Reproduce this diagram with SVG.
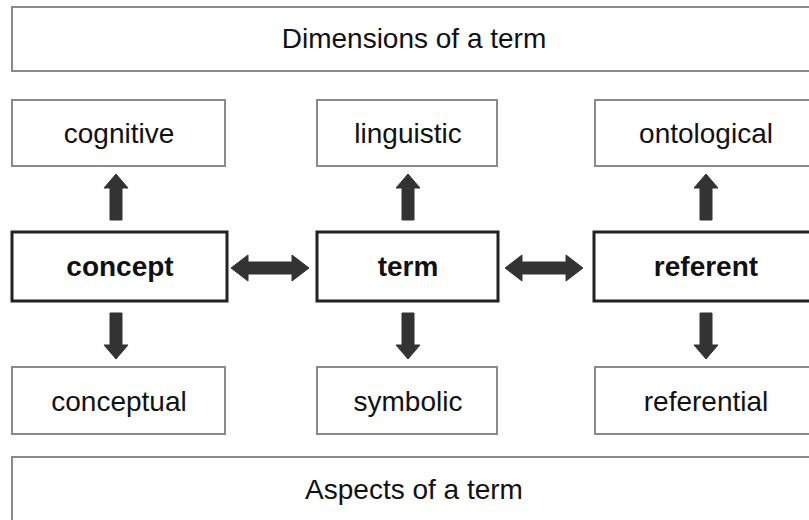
<svg xmlns="http://www.w3.org/2000/svg" width="809" height="520" viewBox="0 0 809 520">
  <style>
    .thin { fill: #ffffff; stroke: #8a8a8a; stroke-width: 2; }
    .thick { fill: #ffffff; stroke: #222222; stroke-width: 3; }
    .lbl { font-family: "Liberation Sans", Arial, sans-serif; font-size: 28px; fill: #111111; text-anchor: middle; }
    .bold { font-weight: bold; }
    .arrow { fill: #333333; stroke: #333333; stroke-width: 1; stroke-linejoin: round; }
  </style>
  <defs>
    <!-- vertical block arrow pointing up, tip at origin -->
    <path id="up" d="M0,0 L12,14 L6,14 L6,46 L-6,46 L-6,14 L-12,14 Z"/>
    <!-- vertical block arrow pointing down, tip at origin -->
    <path id="down" d="M0,0 L12,-14 L6,-14 L6,-46 L-6,-46 L-6,-14 L-12,-14 Z"/>
    <!-- horizontal double-headed block arrow, 78 long, centred vertically on 0 -->
    <path id="both" d="M0,0 L17,-13 L17,-6 L61,-6 L61,-13 L78,0 L61,13 L61,6 L17,6 L17,13 Z"/>
  </defs>

  <rect width="809" height="520" fill="#ffffff"/>

  <g id="dimensions">
    <rect class="thin" x="12" y="7" width="820" height="64"/>
    <text class="lbl" x="414" y="48">Dimensions of a term</text>
  </g>

  <g id="cognitive">
    <rect class="thin" x="12" y="100" width="213" height="66"/>
    <text class="lbl" x="119" y="143">cognitive</text>
  </g>
  <g id="linguistic">
    <rect class="thin" x="317" y="100" width="180" height="66"/>
    <text class="lbl" x="408" y="143">linguistic</text>
  </g>
  <g id="ontological">
    <rect class="thin" x="595" y="100" width="230" height="66"/>
    <text class="lbl" x="706" y="143">ontological</text>
  </g>

  <g id="concept">
    <rect class="thick" x="12" y="232" width="215" height="69"/>
    <text class="lbl bold" x="120" y="276">concept</text>
  </g>
  <g id="term">
    <rect class="thick" x="317" y="232" width="181" height="69"/>
    <text class="lbl bold" x="408" y="276">term</text>
  </g>
  <g id="referent">
    <rect class="thick" x="594" y="232" width="230" height="69"/>
    <text class="lbl bold" x="706" y="276">referent</text>
  </g>

  <g id="conceptual">
    <rect class="thin" x="12" y="367" width="213" height="67"/>
    <text class="lbl" x="119" y="411">conceptual</text>
  </g>
  <g id="symbolic">
    <rect class="thin" x="317" y="367" width="180" height="67"/>
    <text class="lbl" x="408" y="411">symbolic</text>
  </g>
  <g id="referential">
    <rect class="thin" x="595" y="367" width="230" height="67"/>
    <text class="lbl" x="706" y="411">referential</text>
  </g>

  <g id="aspects">
    <rect class="thin" x="12" y="457" width="820" height="70"/>
    <text class="lbl" x="414" y="499">Aspects of a term</text>
  </g>

  <g id="connectors">
    <use href="#up" class="arrow" x="116" y="174"/>
    <use href="#up" class="arrow" x="408" y="174"/>
    <use href="#up" class="arrow" x="706" y="174"/>
    <use href="#down" class="arrow" x="116" y="359"/>
    <use href="#down" class="arrow" x="408" y="359"/>
    <use href="#down" class="arrow" x="706" y="359"/>
    <use href="#both" class="arrow" x="231" y="268"/>
    <use href="#both" class="arrow" x="505" y="268"/>
  </g>
</svg>
